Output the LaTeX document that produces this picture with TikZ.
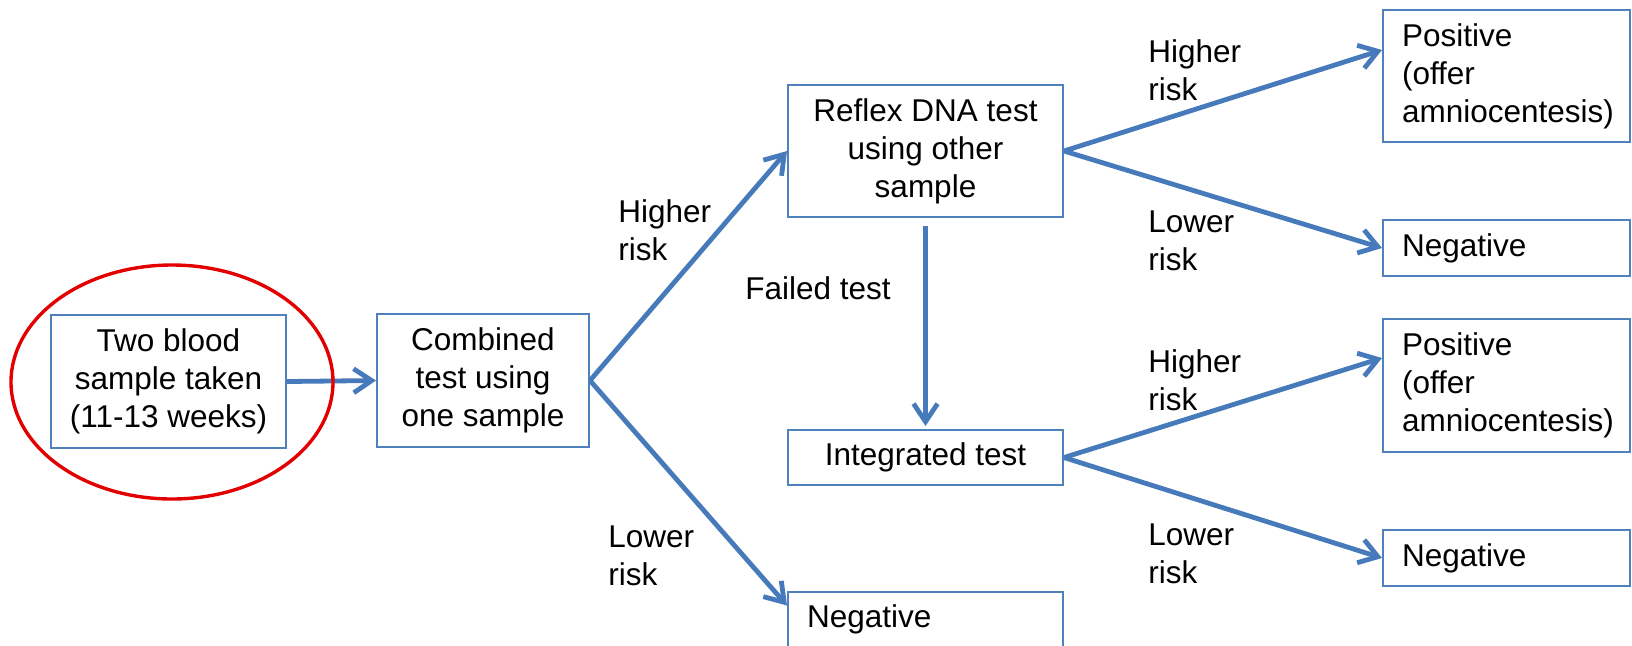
\documentclass[tikz,border=0pt]{standalone}
\usepackage{fontspec}
\setmainfont{Liberation Sans}
\usetikzlibrary{arrows.meta,calc}
\definecolor{boxblue}{RGB}{79,129,189}
\definecolor{arrblue}{RGB}{70,122,186}
\definecolor{ellred}{RGB}{226,0,0}
\begin{document}
\begin{tikzpicture}[x=0.5pt,y=-0.5pt,
  font=\fontsize{15.75pt}{19pt}\selectfont,
  cbox/.style={draw=boxblue,line width=1pt,inner sep=0pt,align=center},
  lbox/.style={draw=boxblue,line width=1pt,inner xsep=9.5pt,inner ysep=0pt,align=flush left},
  conn/.style={draw=arrblue,line width=2.4pt,-{Straight Barb[length=9pt,width=12pt]}},
  lbl/.style={inner sep=0pt,anchor=north west,align=left}]
\fill[white] (0,0) rectangle (1632,645);
\useasboundingbox (0,0) rectangle (1632,645);
% boxes
\node[cbox,minimum width=117.5pt,minimum height=66.5pt] (two) at (168.5,381.5) {Two blood\\sample taken\\(11-13 weeks)};
\node[cbox,minimum width=106pt,minimum height=66.5pt] (comb) at (483,380.5) {Combined\\test using\\one sample};
\node[cbox,minimum width=137.5pt,minimum height=66pt] (reflex) at (925.5,151) {Reflex DNA test\\using other\\sample};
\node[cbox,minimum width=137.5pt,minimum height=27.5pt] (integ) at (925.5,457.5) {Integrated test};
\node[lbox,text width=118.5pt,minimum height=27.5pt] (negc) at (925.5,619.5) {Negative};
\node[lbox,text width=104.5pt,minimum height=66pt] (pos1) at (1506.5,76) {Positive\\(offer\\amniocentesis)};
\node[lbox,text width=104.5pt,minimum height=28pt] (neg1) at (1506.5,248) {Negative};
\node[lbox,text width=104.5pt,minimum height=66.5pt] (pos2) at (1506.5,385.5) {Positive\\(offer\\amniocentesis)};
\node[lbox,text width=104.5pt,minimum height=28pt] (neg2) at (1506.5,558) {Negative};
% connectors
\draw[conn] (two.east) -- (comb.west);
\draw[conn] (comb.east) -- (reflex.west);
\draw[conn] (comb.east) -- ($(negc.west)+(0,-14)$);
\draw[conn,shorten <=4pt,shorten >=1.5pt] (reflex.south) -- (integ.north);
\draw[conn] (reflex.east) -- ($(pos1.west)+(0,-26)$);
\draw[conn] (reflex.east) -- (neg1.west);
\draw[conn] (integ.east) -- ($(pos2.west)+(0,-27.5)$);
\draw[conn] (integ.east) -- (neg2.west);
% labels
\node[lbl] (h1) at (618,199.5) {Higher\\risk};
\node[lbl] (ft) at (745,276.5) {Failed test};
\node[lbl] (l1) at (608,525.5) {Lower\\risk};
\node[lbl] (h2) at (1148,39.5) {Higher\\risk};
\node[lbl] (l2) at (1148,210.5) {Lower\\risk};
\node[lbl] (h3) at (1148,349.5) {Higher\\risk};
\node[lbl] (l3) at (1148,523.5) {Lower\\risk};
% red highlight
\draw[ellred,line width=1.7pt] (172,382) ellipse [x radius=80.5pt,y radius=58.5pt];
\end{tikzpicture}
\end{document}
